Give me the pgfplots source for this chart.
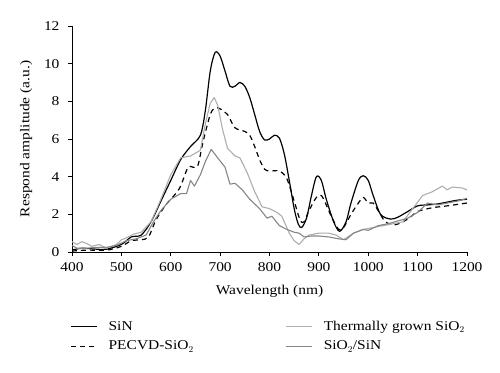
\documentclass[border=0pt]{standalone}
\usepackage{fontspec}
\setmainfont{Liberation Serif}[FakeStretch=1.15]
\usepackage{pgfplots}
\pgfplotsset{compat=1.18}
\definecolor{lightg}{gray}{0.68}
\definecolor{midg}{gray}{0.52}
\begin{document}
\begin{tikzpicture}[font=\fontsize{13.5}{16}\selectfont]
\begin{axis}[
  scale only axis, width=395bp, height=226bp,
  xmin=400, xmax=1200, ymin=0, ymax=12,
  xtick={400,500,...,1200}, ytick={0,2,...,12},
  axis x line=bottom, axis y line=left,
  axis line style={-, line width=0.8pt},
  tick align=outside, tick style={black, line width=0.8pt},
  major tick length=4bp,
  /pgf/number format/assume math mode=true,
  /pgf/number format/1000 sep={},
  xticklabel style={yshift=-3bp},
  yticklabel style={xshift=-5bp},
  xlabel={Wavelength (nm)}, ylabel={Respond amplitude (a.u.)},
  xlabel style={yshift=-7bp},
  ylabel shift=5bp,
  legend columns=2, transpose legend,
  legend style={draw=none, at={(-0.012,-0.2875)}, anchor=north west, row sep=5bp,
    /tikz/every even column/.append style={column sep=90bp}},
  legend cell align=left,
  legend image code/.code={\draw[#1] (0bp,0bp) -- (26bp,0bp); \path (35bp,0bp);},
  line join=round,
]
\addplot[black, line width=1.2pt, smooth] coordinates {
(400,0.1)(420,0.2)(450,0.15)(470,0.15)(500,0.4)(520,0.8)(540,0.9)(560,1.6)(580,2.7)(600,3.8)(620,4.9)(640,5.6)(660,6.2)(670,7.5)(680,9.6)(690,10.6)(700,10.4)(710,9.6)(720,8.8)(730,8.8)(740,9.0)(750,8.8)(760,8.2)(770,7.3)(780,6.4)(790,5.95)(800,6.0)(810,6.2)(820,6.05)(830,5.2)(840,3.8)(850,2.3)(858,1.5)(865,1.3)(875,1.8)(885,3.0)(895,4.0)(905,3.8)(915,2.8)(930,1.6)(942,1.1)(955,1.6)(965,2.6)(980,3.8)(990,4.05)(1000,3.8)(1010,3.0)(1025,2.0)(1045,1.75)(1060,1.85)(1080,2.15)(1100,2.45)(1120,2.5)(1140,2.55)(1160,2.65)(1180,2.75)(1200,2.8)};
\addlegendentry{SiN}
\addplot[black, line width=1.2pt, dash pattern=on 5bp off 4bp, smooth] coordinates {
(400,0.05)(430,0.1)(470,0.1)(500,0.3)(520,0.6)(540,0.65)(555,0.8)(570,1.7)(590,2.5)(610,3.1)(620,3.5)(635,4.5)(645,4.5)(655,4.6)(665,5.8)(680,7.3)(690,7.65)(700,7.6)(715,7.3)(730,6.6)(750,6.4)(760,6.2)(770,5.6)(780,4.9)(790,4.4)(800,4.3)(820,4.3)(835,3.9)(850,2.7)(862,1.7)(870,1.6)(880,2.2)(895,2.9)(905,3.0)(915,2.5)(925,1.9)(940,1.2)(950,1.3)(965,2.0)(980,2.6)(990,2.9)(1000,2.6)(1010,2.6)(1020,2.2)(1035,1.6)(1055,1.45)(1080,1.75)(1100,2.15)(1130,2.35)(1160,2.45)(1200,2.6)};
\addlegendentry{PECVD-SiO$_2$}
\addplot[lightg, line width=1.1pt] coordinates {
(400,0.55)(410,0.4)(420,0.55)(430,0.45)(440,0.3)(455,0.4)(470,0.2)(490,0.4)(500,0.65)(510,0.75)(525,0.95)(540,1.05)(560,1.6)(580,2.8)(600,4.1)(620,5.0)(640,5.1)(660,5.4)(670,6.8)(680,7.9)(688,8.2)(695,7.8)(705,6.5)(715,5.5)(730,5.1)(740,5.0)(755,4.2)(770,3.2)(785,2.4)(800,2.3)(815,2.1)(825,1.9)(840,1.0)(850,0.6)(860,0.4)(870,0.7)(880,0.9)(900,1.0)(920,1.0)(935,0.9)(950,0.65)(970,1.0)(990,1.2)(1010,1.3)(1030,1.4)(1050,1.5)(1070,1.6)(1090,2.3)(1110,3.0)(1130,3.2)(1150,3.5)(1160,3.3)(1170,3.45)(1190,3.4)(1200,3.3)};
\addlegendentry{Thermally grown SiO$_2$}
\addplot[midg, line width=1.1pt] coordinates {
(400,0.35)(410,0.2)(430,0.2)(450,0.25)(470,0.25)(490,0.35)(510,0.6)(530,0.7)(550,0.9)(565,1.6)(580,2.2)(600,2.8)(620,3.1)(632,3.1)(640,3.8)(648,3.5)(660,4.1)(670,4.8)(682,5.45)(695,5.0)(710,4.5)(720,3.6)(730,3.65)(745,3.3)(760,2.8)(780,2.3)(795,1.8)(805,1.9)(820,1.4)(835,1.2)(850,1.05)(860,1.0)(870,0.8)(885,0.85)(900,0.85)(920,0.8)(940,0.7)(955,0.65)(970,1.0)(990,1.2)(1000,1.15)(1020,1.4)(1040,1.5)(1060,1.65)(1080,1.8)(1100,2.1)(1120,2.6)(1140,2.5)(1160,2.6)(1180,2.7)(1200,2.85)};
\addlegendentry{SiO$_2$/SiN}
\end{axis}
\pgfresetboundingbox
\path ([xshift=-72bp,yshift=-120bp]current axis.south west) rectangle ([xshift=33bp,yshift=26bp]current axis.north east);
\end{tikzpicture}
\end{document}
